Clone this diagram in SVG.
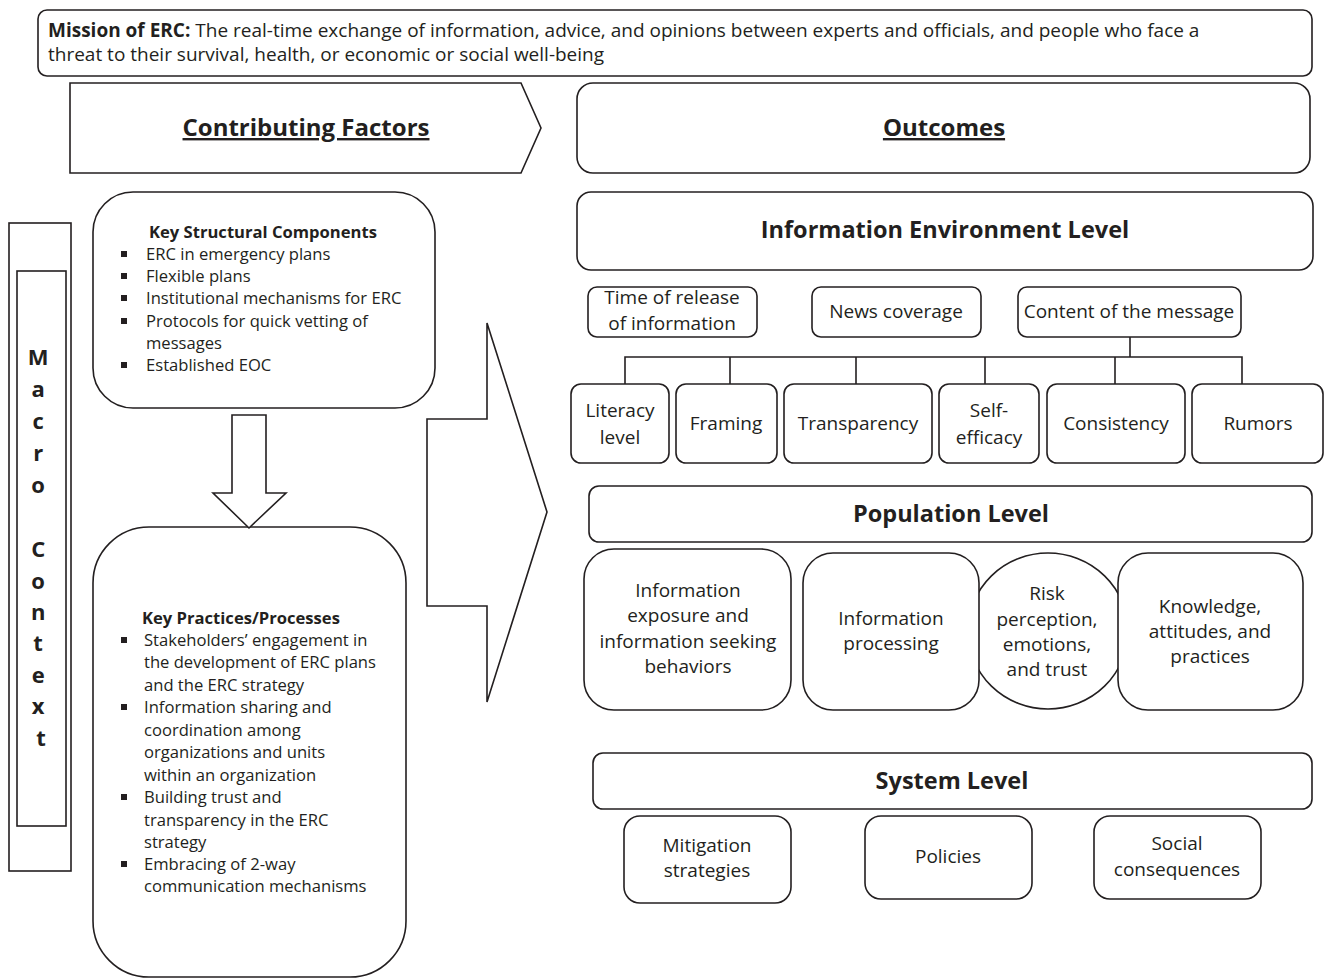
<svg xmlns="http://www.w3.org/2000/svg" width="1331" height="979" viewBox="0 0 1331 979">
  <style>
    .box { fill: #fff; stroke: #231f20; stroke-width: 1.6; }
    .line { fill: none; stroke: #231f20; stroke-width: 1.6; }
    text { font-family: "Open Sans", "Noto Sans", sans-serif; fill: #231f20; }
    .t { font-size: 19px; text-anchor: middle; }
    .lvl { font-size: 23.5px; font-weight: bold; text-anchor: middle; }
    .hdr { font-size: 24px; font-weight: bold; text-anchor: middle; text-decoration: underline; }
    .lst { font-size: 16.6px; }
    .lsth { font-size: 16.6px; font-weight: bold; }
    .mac { font-size: 22px; font-weight: bold; text-anchor: middle; }
    .bul { fill: #231f20; }
  </style>
  <rect width="1331" height="979" fill="#fff"/>

  <!-- mission statement banner -->
  <g id="mission">
    <rect class="box" x="38" y="10" width="1274" height="66" rx="9"/>
    <text x="48" y="37" font-size="19"><tspan font-weight="bold">Mission of ERC:</tspan> The real-time exchange of information, advice, and opinions between experts and officials, and people who face a</text>
    <text x="48" y="61" font-size="19">threat to their survival, health, or economic or social well-being</text>
  </g>

  <!-- column headers -->
  <g id="contributing-factors">
    <polygon class="box" points="70,83 521,83 541,128 521,173 70,173"/>
    <text class="hdr" x="306" y="136">Contributing Factors</text>
  </g>
  <g id="outcomes">
    <rect class="box" x="577" y="83" width="733" height="90" rx="16"/>
    <text class="hdr" x="944" y="136">Outcomes</text>
  </g>

  <!-- macro context side bar -->
  <g id="macro-context">
    <rect class="box" x="9" y="223" width="62" height="648"/>
    <rect class="box" x="17" y="271" width="49" height="555"/>
    <text class="mac" x="41">
      <tspan x="41" y="365">M</tspan>
      <tspan x="41" y="397">a</tspan>
      <tspan x="41" y="429">c</tspan>
      <tspan x="41" y="461">r</tspan>
      <tspan x="41" y="493">o</tspan>
      <tspan x="41" y="557">C</tspan>
      <tspan x="41" y="589">o</tspan>
      <tspan x="41" y="620">n</tspan>
      <tspan x="41" y="651">t</tspan>
      <tspan x="41" y="683">e</tspan>
      <tspan x="41" y="714">x</tspan>
      <tspan x="41" y="746">t</tspan>
    </text>
  </g>

  <!-- key structural components -->
  <g id="structural-components">
    <rect class="box" x="93" y="192" width="342" height="216" rx="40"/>
    <text class="lsth" x="149" y="238">Key Structural Components</text>
    <rect class="bul" x="121" y="251" width="6" height="6"/>
    <text class="lst" x="146" y="260">ERC in emergency plans</text>
    <rect class="bul" x="121" y="273" width="6" height="6"/>
    <text class="lst" x="146" y="282">Flexible plans</text>
    <rect class="bul" x="121" y="295" width="6" height="6"/>
    <text class="lst" x="146" y="304">Institutional mechanisms for ERC</text>
    <rect class="bul" x="121" y="318" width="6" height="6"/>
    <text class="lst" x="146" y="327">Protocols for quick vetting of</text>
    <text class="lst" x="146" y="349">messages</text>
    <rect class="bul" x="121" y="362" width="6" height="6"/>
    <text class="lst" x="146" y="371">Established EOC</text>
  </g>

  <!-- key practices / processes -->
  <g id="practices-processes">
    <rect class="box" x="93" y="527" width="313" height="450" rx="56"/>
    <text class="lsth" x="142" y="624">Key Practices/Processes</text>
    <rect class="bul" x="121" y="637" width="6" height="6"/>
    <text class="lst" x="144" y="646">Stakeholders’ engagement in</text>
    <text class="lst" x="144" y="668">the development of ERC plans</text>
    <text class="lst" x="144" y="691">and the ERC strategy</text>
    <rect class="bul" x="121" y="704" width="6" height="6"/>
    <text class="lst" x="144" y="713">Information sharing and</text>
    <text class="lst" x="144" y="736">coordination among</text>
    <text class="lst" x="144" y="758">organizations and units</text>
    <text class="lst" x="144" y="781">within an organization</text>
    <rect class="bul" x="121" y="794" width="6" height="6"/>
    <text class="lst" x="144" y="803">Building trust and</text>
    <text class="lst" x="144" y="826">transparency in the ERC</text>
    <text class="lst" x="144" y="848">strategy</text>
    <rect class="bul" x="121" y="861" width="6" height="6"/>
    <text class="lst" x="144" y="870">Embracing of 2-way</text>
    <text class="lst" x="144" y="892">communication mechanisms</text>
  </g>

  <!-- block arrows linking the factors -->
  <g id="connectors">
    <polygon class="box" points="232,415 266,415 266,493 286,493 249,528 213,493 232,493"/>
    <polygon class="box" points="427,419 487,419 487,323 547,512 487,702 487,606 427,606"/>
    <polyline class="line" points="1130,337 1130,357"/>
    <polyline class="line" points="625,384 625,357 1242,357 1242,384"/>
    <line class="line" x1="730" y1="357" x2="730" y2="384"/>
    <line class="line" x1="856" y1="357" x2="856" y2="384"/>
    <line class="line" x1="985" y1="357" x2="985" y2="384"/>
    <line class="line" x1="1115" y1="357" x2="1115" y2="384"/>
  </g>

  <!-- information environment level -->
  <g id="info-env-level">
    <rect class="box" x="577" y="192" width="736" height="78" rx="14"/>
    <text class="lvl" x="945" y="238">Information Environment Level</text>
  </g>
  <g id="time-of-release">
    <rect class="box" x="588" y="287" width="169" height="50" rx="9"/>
    <text class="t" x="672" y="304">Time of release</text>
    <text class="t" x="672" y="330">of information</text>
  </g>
  <g id="news-coverage">
    <rect class="box" x="812" y="287" width="169" height="50" rx="9"/>
    <text class="t" x="896" y="318">News coverage</text>
  </g>
  <g id="content-message">
    <rect class="box" x="1018" y="287" width="223" height="50" rx="9"/>
    <text class="t" x="1129" y="318">Content of the message</text>
  </g>
  <g id="literacy">
    <rect class="box" x="571" y="384" width="98" height="79" rx="10"/>
    <text class="t" x="620" y="417">Literacy</text>
    <text class="t" x="620" y="444">level</text>
  </g>
  <g id="framing">
    <rect class="box" x="676" y="384" width="101" height="79" rx="10"/>
    <text class="t" x="726" y="430">Framing</text>
  </g>
  <g id="transparency">
    <rect class="box" x="784" y="384" width="148" height="79" rx="10"/>
    <text class="t" x="858" y="430">Transparency</text>
  </g>
  <g id="self-efficacy">
    <rect class="box" x="939" y="384" width="100" height="79" rx="10"/>
    <text class="t" x="989" y="417">Self-</text>
    <text class="t" x="989" y="444">efficacy</text>
  </g>
  <g id="consistency">
    <rect class="box" x="1047" y="384" width="138" height="79" rx="10"/>
    <text class="t" x="1116" y="430">Consistency</text>
  </g>
  <g id="rumors">
    <rect class="box" x="1192" y="384" width="131" height="79" rx="10"/>
    <text class="t" x="1258" y="430">Rumors</text>
  </g>

  <!-- population level -->
  <g id="population-level">
    <rect class="box" x="589" y="486" width="723" height="56" rx="10"/>
    <text class="lvl" x="951" y="522">Population Level</text>
  </g>
  <g id="risk-perception">
    <ellipse class="box" cx="1048" cy="631" rx="80" ry="78"/>
    <text class="t" x="1047" y="600">Risk</text>
    <text class="t" x="1047" y="626">perception,</text>
    <text class="t" x="1047" y="651">emotions,</text>
    <text class="t" x="1047" y="676">and trust</text>
  </g>
  <g id="info-exposure">
    <rect class="box" x="584" y="549" width="207" height="161" rx="30"/>
    <text class="t" x="688" y="597">Information</text>
    <text class="t" x="688" y="622">exposure and</text>
    <text class="t" x="688" y="648">information seeking</text>
    <text class="t" x="688" y="673">behaviors</text>
  </g>
  <g id="info-processing">
    <rect class="box" x="803" y="553" width="176" height="157" rx="30"/>
    <text class="t" x="891" y="625">Information</text>
    <text class="t" x="891" y="650">processing</text>
  </g>
  <g id="knowledge">
    <rect class="box" x="1118" y="553" width="185" height="157" rx="30"/>
    <text class="t" x="1210" y="613">Knowledge,</text>
    <text class="t" x="1210" y="638">attitudes, and</text>
    <text class="t" x="1210" y="663">practices</text>
  </g>

  <!-- system level -->
  <g id="system-level">
    <rect class="box" x="593" y="753" width="719" height="56" rx="10"/>
    <text class="lvl" x="952" y="789">System Level</text>
  </g>
  <g id="mitigation">
    <rect class="box" x="624" y="816" width="167" height="87" rx="16"/>
    <text class="t" x="707" y="852">Mitigation</text>
    <text class="t" x="707" y="877">strategies</text>
  </g>
  <g id="policies">
    <rect class="box" x="865" y="816" width="167" height="83" rx="16"/>
    <text class="t" x="948" y="863">Policies</text>
  </g>
  <g id="social-consequences">
    <rect class="box" x="1094" y="816" width="167" height="83" rx="16"/>
    <text class="t" x="1177" y="850">Social</text>
    <text class="t" x="1177" y="876">consequences</text>
  </g>
</svg>
